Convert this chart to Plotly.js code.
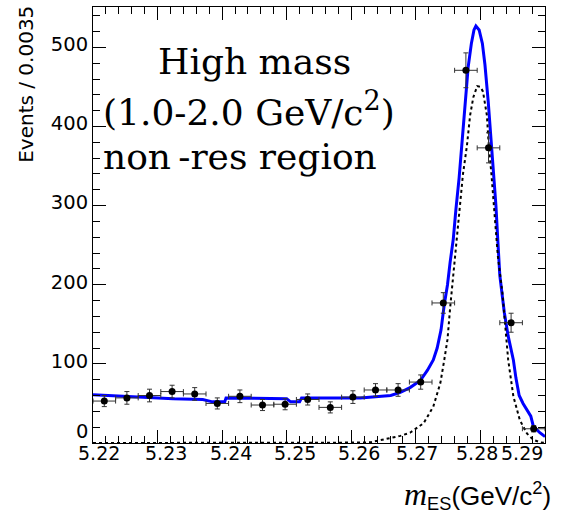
<!DOCTYPE html>
<html>
<head>
<meta charset="utf-8">
<script src="https://cdn.plot.ly/plotly-3.0.1.min.js"></script>
<style>html,body{margin:0;padding:0;background:#fff;}#chart{width:569px;height:520px;}</style>
</head>
<body>
<div id="chart"></div>
<script>
// Data points (bin centres, bin width 0.0035)
const binCenters = [5.22175, 5.22525, 5.22875, 5.23225, 5.23575, 5.23925, 5.24275, 5.24625, 5.24975, 5.25325,
                    5.25675, 5.26025, 5.26375, 5.26725, 5.27075, 5.27425, 5.27775, 5.28125, 5.28475, 5.28825];
const events = [53, 57, 60, 65, 62, 50, 59, 48, 49, 55, 45, 58, 67, 67, 77, 177, 471, 373, 152, 18];
const eventErrors = [7, 8, 8, 8, 8, 7, 8, 7, 7, 7, 7, 8, 8, 8, 9, 13, 22, 19, 12, 4];
const binHalfWidth = 0.00175;

// Total fit (blue solid)
const fitX = [5.2200, 5.2290, 5.2324, 5.2370, 5.2385, 5.2404, 5.2406, 5.2500, 5.2506, 5.2520, 5.2523, 5.2552,
              5.2614, 5.2661, 5.2676, 5.2691, 5.2707, 5.2718, 5.2727, 5.2733, 5.2739, 5.2744, 5.2749, 5.2753,
              5.2758, 5.2762, 5.2767, 5.2772, 5.2776, 5.2781, 5.2786, 5.2790, 5.2793, 5.2798, 5.2803, 5.2807,
              5.2812, 5.2817, 5.2821, 5.2824, 5.2827, 5.2830, 5.2834, 5.2837, 5.2843, 5.2851, 5.2855, 5.2860,
              5.2866, 5.2872, 5.2878, 5.2882, 5.2892, 5.2900];
const fitY = [61, 57, 56, 55, 52, 52, 57, 56, 52, 52, 57, 57,
              57, 60, 64, 70, 79, 92, 105, 120, 143, 175, 200, 228,
              258, 295, 335, 385, 430, 475, 505, 522, 527, 522, 505, 478,
              432, 380, 338, 300, 255, 212, 185, 165, 135, 105, 82, 60,
              50, 42, 34, 21, 13, 8];

// Signal component (black dotted)
const sigX = [5.2200, 5.2583, 5.2614, 5.2630, 5.2656, 5.2676, 5.2691, 5.2712, 5.2727, 5.2738, 5.2744, 5.2749,
              5.2753, 5.2758, 5.2764, 5.2769, 5.2773, 5.2779, 5.2784, 5.2789, 5.2795, 5.2800, 5.2804, 5.2810,
              5.2813, 5.2817, 5.2820, 5.2823, 5.2827, 5.2834, 5.2838, 5.2843, 5.2851, 5.2861, 5.2872, 5.2882,
              5.2892, 5.2900];
const sigY = [0, 0, 0.5, 1, 5, 9, 13, 25, 46, 76, 105, 131,
              170, 215, 268, 305, 340, 375, 414, 437, 451, 450, 444, 414,
              375, 340, 310, 285, 236, 190, 148, 105, 59, 29, 12, 4,
              1, 0];

const xTickVals = [5.22, 5.23, 5.24, 5.25, 5.26, 5.27, 5.28, 5.29];
const xTickText = ['5.22', '5.23', '5.24', '5.25', '5.26', '5.27', '5.28', '5.29'];
const yTickVals = [100, 200, 300, 400, 500];
const yTickText = ['100', '200', '300', '400', '500'];
const yZeroLabel = '0';

// label placement styling (pixel nudges, ROOT-like)
const xLabelShift = [6, 8, 9, 8, 8, 1, -3, 0];
const xLabelAnchor = ['center', 'center', 'center', 'center', 'center', 'center', 'center', 'right'];

const traces = [
  {x: fitX, y: fitY, type: 'scatter', mode: 'lines', line: {color: '#0000ff', width: 3}, hoverinfo: 'skip'},
  {x: sigX, y: sigY, type: 'scatter', mode: 'lines', line: {color: '#000000', width: 2, dash: '3px,3px'}, hoverinfo: 'skip'},
  {x: binCenters, y: events, type: 'scatter', mode: 'markers',
   marker: {color: '#000000', size: 7, symbol: 'circle'},
   error_y: {type: 'data', array: eventErrors, visible: true, color: '#333333', thickness: 1, width: 2.5},
   error_x: {type: 'constant', value: binHalfWidth, visible: true, color: '#333333', thickness: 1, width: 2.5}}
];

const axisCommon = {
  showline: true, linecolor: '#000', linewidth: 1, mirror: 'ticks',
  ticks: 'inside', ticklen: 13, tickwidth: 1, tickcolor: '#000',
  showgrid: false, zeroline: false,
  tickfont: {family: 'DejaVu Sans', size: 19.5, color: '#000'}
};

const labelFont = {family: 'DejaVu Sans', size: 19, color: '#000'};
const xLabelAnnotations = xTickVals.map((v, i) => ({
  text: xTickText[i], xref: 'x', yref: 'paper', x: v, y: 0,
  xanchor: xLabelAnchor[i], yanchor: 'top', xshift: xLabelShift[i], yshift: 3,
  showarrow: false, font: labelFont
}));

const layout = {
  width: 569, height: 520,
  margin: {l: 93, r: 24, t: 7, b: 77},
  paper_bgcolor: '#fff', plot_bgcolor: '#fff',
  showlegend: false,
  xaxis: Object.assign({}, axisCommon, {
    range: [5.22, 5.29], tickvals: xTickVals, showticklabels: false,
    minor: {ticks: 'inside', ticklen: 7, dtick: 0.002, tick0: 5.22, tickcolor: '#000', showgrid: false}
  }),
  yaxis: Object.assign({}, axisCommon, {
    range: [0, 551], tickvals: yTickVals, ticktext: yTickText, ticklabelshift: -3,
    minor: {ticks: 'inside', ticklen: 7, dtick: 20, tick0: 0, tickcolor: '#000', showgrid: false}
  }),
  annotations: xLabelAnnotations.concat([
    {text: yZeroLabel, xref: 'paper', yref: 'y', x: 0, y: 0, xanchor: 'right', yanchor: 'middle', xshift: -3, yshift: 12,
     showarrow: false, font: {family: 'DejaVu Sans', size: 19.5, color: '#000'}},
    {text: 'Events / 0.0035', xref: 'paper', yref: 'paper', x: -0.150, y: 0.822, xanchor: 'center', yanchor: 'middle',
     textangle: -90, showarrow: false, font: {family: 'DejaVu Sans', size: 20, color: '#000'}},
    {text: '<span style="font-family:\'Liberation Serif\';font-size:32px"><i>m</i></span><sub>ES</sub>(GeV/c<sup>2</sup>)',
     xref: 'paper', yref: 'paper', x: 1.018, y: -0.119, xanchor: 'right', yanchor: 'middle', showarrow: false,
     font: {family: 'Liberation Sans', size: 26, color: '#000'}},
    {text: 'High mass', xref: 'paper', yref: 'paper', x: 0.358, y: 0.874, xanchor: 'center', yanchor: 'middle',
     showarrow: false, font: {family: 'DejaVu Serif', size: 36, color: '#000'}},
    {text: '(1.0-2.0 GeV/c<sup><span style="font-size:27px">2</span></sup>)', xref: 'paper', yref: 'paper', x: 0.018, y: 0.765, xanchor: 'left', yanchor: 'middle',
     showarrow: false, font: {family: 'DejaVu Serif', size: 36, color: '#000'}},
    {text: 'non\u2009-res region', xref: 'paper', yref: 'paper', x: 0.018, y: 0.658, xanchor: 'left', yanchor: 'middle',
     showarrow: false, font: {family: 'DejaVu Serif', size: 36, color: '#000'}}
  ])
};

Plotly.newPlot('chart', traces, layout, {displayModeBar: false, staticPlot: true});
</script>
</body>
</html>
